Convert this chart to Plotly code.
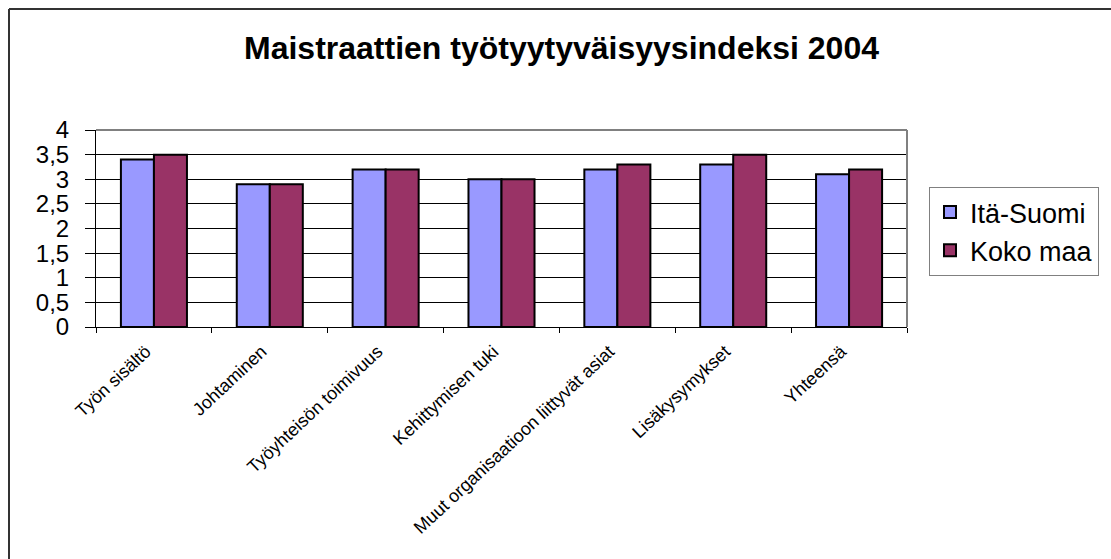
import plotly.graph_objects as go

categories = ["Työn sisältö", "Johtaminen", "Työyhteisön toimivuus", "Kehittymisen tuki",
              "Muut organisaatioon liittyvät asiat", "Lisäkysymykset", "Yhteensä"]
ita_suomi = [3.4, 2.9, 3.2, 3.0, 3.2, 3.3, 3.1]
koko_maa = [3.5, 2.9, 3.2, 3.0, 3.3, 3.5, 3.2]
y_ticks = [0, 0.5, 1, 1.5, 2, 2.5, 3, 3.5, 4]
y_tick_labels = ["0", "0,5", "1", "1,5", "2", "2,5", "3", "3,5", "4"]

W, H = 1111, 559
L, R, T, B = 96, 907, 130, 327
pw, ph = R - L, B - T

def px(x):
    return (x - L) / pw

def py(y):
    return (B - y) / ph

fig = go.Figure()
fig.add_trace(go.Bar(name="Itä-Suomi", x=categories, y=ita_suomi,
                     marker=dict(color="#9999FF", line=dict(color="black", width=2))))
fig.add_trace(go.Bar(name="Koko maa", x=categories, y=koko_maa,
                     marker=dict(color="#993366", line=dict(color="black", width=2))))

font = "Liberation Sans, Arial, sans-serif"
fig.update_layout(
    width=W, height=H,
    margin=dict(l=L, r=W - R, t=T, b=H - B, autoexpand=False),
    paper_bgcolor="white", plot_bgcolor="white",
    barmode="group", bargap=0.43, bargroupgap=0,
    font=dict(family=font, color="black"),
    title=dict(text="<b>Maistraattien työtyytyväisyysindeksi 2004</b>",
               font=dict(size=32, family=font, color="black"),
               x=561.5 / W, xref="container", xanchor="center",
               y=1 - 48 / H, yref="container", yanchor="middle"),
    legend=dict(x=px(929), y=py(187), xanchor="left", yanchor="top",
                bgcolor="white", bordercolor="#808080", borderwidth=1,
                font=dict(size=27, family=font, color="black"),
                tracegroupgap=0),
    showlegend=True,
)
fig.update_xaxes(showline=True, linecolor="black", linewidth=1,
                 ticks="outside", tickson="boundaries", ticklen=5, tickcolor="black",
                 tickangle=-43, ticklabelshift=-8, ticklabelstandoff=6,
                 tickfont=dict(size=18, family=font, color="black"),
                 showgrid=False)
fig.update_yaxes(range=[0, 4], tickvals=y_ticks, ticktext=y_tick_labels,
                 showline=True, linecolor="black", linewidth=1,
                 ticks="outside", ticklen=10, tickcolor="black", ticklabelstandoff=11,
                 tickfont=dict(size=24, family=font, color="black"),
                 showgrid=True, gridcolor="black", gridwidth=1, zeroline=False)

# plot area border (top and right, gray)
fig.add_shape(type="line", xref="paper", yref="paper", x0=0, x1=1, y0=1, y1=1,
              line=dict(color="#808080", width=2), layer="above")
fig.add_shape(type="line", xref="paper", yref="paper", x0=1, x1=1, y0=0, y1=1,
              line=dict(color="#808080", width=2), layer="above")
# outer chart border (top and left)
fig.add_shape(type="line", xref="paper", yref="paper", x0=px(9), x1=px(W + 5),
              y0=py(9), y1=py(9), line=dict(color="#333333", width=2))
fig.add_shape(type="line", xref="paper", yref="paper", x0=px(9), x1=px(9),
              y0=py(9), y1=py(H + 5), line=dict(color="#333333", width=2))

fig.write_html("out.html", config={"displayModeBar": False},
               post_script="document.body.style.margin='0';document.body.style.overflow='hidden';")
